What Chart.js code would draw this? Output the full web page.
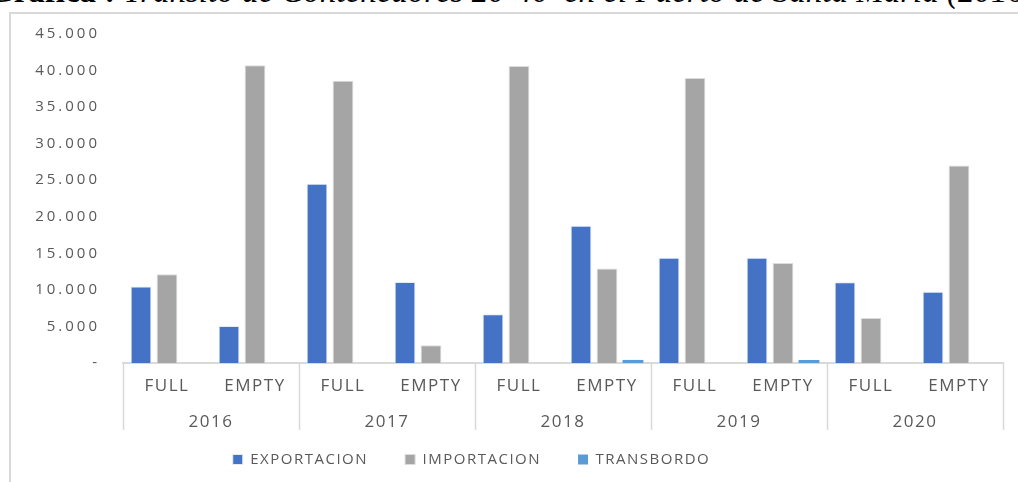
<!DOCTYPE html>
<html>
<head>
<meta charset="utf-8">
<script src="https://cdn.jsdelivr.net/npm/chart.js@4"></script>
<style>
  html, body { margin: 0; padding: 0; background: #fff; overflow: hidden; }
  body { width: 1018px; height: 482px; position: relative; }
  .titulo {
    position: absolute; left: -12px; top: -25px; white-space: nowrap;
    font-family: "Liberation Serif", serif; font-size: 33px; line-height: 33px; color: #000;
  }
  .titulo b { font-weight: bold; }
  .titulo i { font-style: italic; }
  .marco {
    position: absolute; left: 9px; top: 12px; width: 1020px; height: 480px;
    border-left: 2px solid #d9d9d9; border-top: 2px solid #d9d9d9;
  }
  #wrap { position: absolute; left: 0; top: 0; width: 1018px; height: 482px; }
</style>
</head>
<body>
<div class="titulo"><b>Gráfica :</b> <i>Tránsito de Contenedores 20-40' en el Puerto de Santa María (2016-2020)</i></div>
<div class="marco"></div>
<div id="wrap"><canvas id="grafica"></canvas></div>
<script>
// Tránsito de contenedores por año y tipo
const anios = ['2016', '2017', '2018', '2019', '2020'];
const tipos = ['FULL', 'EMPTY', 'FULL', 'EMPTY', 'FULL', 'EMPTY', 'FULL', 'EMPTY', 'FULL', 'EMPTY'];
const exportacion = [10450, 5060, 24530, 11090, 6670, 18770, 14400, 14400, 11040, 9760];
const importacion = [12150, 40720, 38610, 2440, 40630, 12930, 38970, 13670, 6170, 27010];
const transbordo = [0, 0, 0, 0, 0, 420, 0, 410, 0, 0];
const ticksY = [0, 5000, 10000, 15000, 20000, 25000, 30000, 35000, 40000, 45000];

const GRIS = '#d9d9d9';
const TEXTO = '#595959';

function miles(v) {
    if (v === 0) return '-';
    return String(v).replace(/\B(?=(\d{3})+(?!\d))/g, '.');
}

// texto algo más espaciado, como en Excel
const espaciado = ctx => { ctx.letterSpacing = '1.5px'; };

const separadores = {
    id: 'separadores',
    beforeUpdate(chart) { espaciado(chart.ctx); },
    beforeLayout(chart) { espaciado(chart.ctx); },
    beforeDraw(chart) { espaciado(chart.ctx); },
    afterLayout(chart) {
        // números del eje Y más anchos
        const ys = chart.scales.y;
        if (ys && !ys._ancho) {
            const orig = ys.drawLabels.bind(ys);
            ys.drawLabels = area => {
                chart.ctx.save();
                chart.ctx.letterSpacing = '3px';
                orig(area);
                chart.ctx.restore();
            };
            ys._ancho = true;
        }
        // leyenda algo a la izquierda y más arriba
        const lg = chart.legend;
        if (lg) {
            lg.left -= 60;
            lg.top -= 25;
            lg.bottom -= 25;
        }
    },
    // separadores verticales del eje agrupado (año / tipo)
    afterDraw(chart) {
        const xa = chart.scales.xAnio;
        const ctx = chart.ctx;
        const base = chart.chartArea.bottom;
        ctx.save();
        ctx.strokeStyle = GRIS;
        ctx.lineWidth = 1.5;
        for (let i = 0; i <= anios.length; i++) {
            const x = Math.round(xa.getPixelForValue(i - 0.5)) + 0.5;
            ctx.beginPath();
            ctx.moveTo(x, base);
            ctx.lineTo(x, 430);
            ctx.stroke();
        }
        ctx.restore();
    }
};

new Chart(document.getElementById('grafica'), {
    type: 'bar',
    data: {
        labels: tipos,
        datasets: [
            { label: 'EXPORTACION', data: exportacion, backgroundColor: '#4472c4', borderColor: '#e4ebf7', borderWidth: 1 },
            { label: 'IMPORTACION', data: importacion, backgroundColor: '#a5a5a5', borderColor: '#dcdcdc', borderWidth: 1 },
            { label: 'TRANSBORDO', data: transbordo, backgroundColor: '#5b9bd5', borderWidth: 0 }
        ]
    },
    options: {
        responsive: true, maintainAspectRatio: false, animation: false,
        datasets: { bar: { categoryPercentage: 0.886, barPercentage: 0.8 } },
        layout: { padding: { left: 0, right: 15, top: 34, bottom: -20 } },
        plugins: {
            legend: {
                position: 'bottom',
                labels: {
                    color: TEXTO, font: { family: 'Open Sans', size: 15 },
                    boxWidth: 10, boxHeight: 10, padding: 37, useBorderRadius: false
                }
            },
            tooltip: { enabled: false }
        },
        scales: {
            y: {
                min: 0, max: 45000,
                afterFit: s => { s.width = 123; },
                afterBuildTicks: s => { s.ticks = ticksY.map(v => ({ value: v })); },
                grid: { display: false, drawTicks: false },
                border: { display: false },
                ticks: { color: TEXTO, font: { family: 'Open Sans', size: 15 }, padding: 23, callback: v => miles(v) }
            },
            x: {
                position: 'bottom',
                afterFit: s => { s.height = 40; },
                grid: { display: false, drawTicks: false },
                border: { display: true, color: GRIS, width: 2 },
                ticks: { color: TEXTO, font: { family: 'Open Sans', size: 17 }, padding: 13, maxRotation: 0, autoSkip: false }
            },
            xAnio: {
                type: 'category', position: 'bottom', labels: anios, offset: true,
                afterFit: s => { s.height = 37; },
                grid: { display: false, drawTicks: false },
                border: { display: false },
                ticks: { color: TEXTO, font: { family: 'Open Sans', size: 17 }, padding: 9, maxRotation: 0 }
            }
        }
    },
    plugins: [separadores]
});
</script>
</body>
</html>
